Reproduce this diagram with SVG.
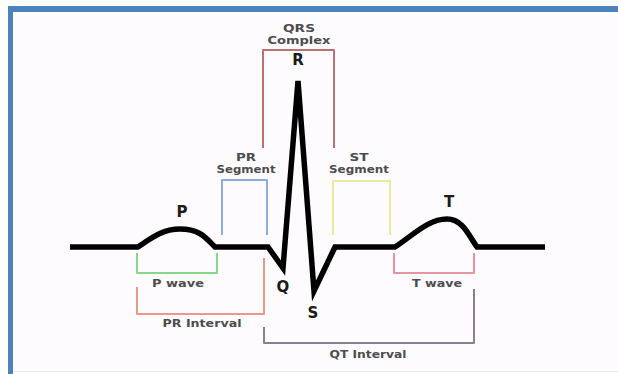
<svg xmlns="http://www.w3.org/2000/svg" width="618" height="374" viewBox="0 0 618 374">
<style>
.br{fill:none;stroke-width:2;stroke-linejoin:round;stroke-linecap:butt}
.lbl{font-family:"DejaVu Sans","Liberation Sans",sans-serif;font-weight:bold;font-size:11px;fill:#4d4d4d;text-anchor:middle}
.sm{font-size:10.5px}
.big{font-family:"DejaVu Sans","Liberation Sans",sans-serif;font-weight:bold;font-size:15px;fill:#1a1a1a;text-anchor:middle}
</style>
<rect width="618" height="374" fill="#ffffff"/>
<rect x="13" y="12" width="605" height="359" fill="#fdfbfd"/>
<rect x="13" y="371" width="605" height="1" fill="#e6e8ee"/>
<rect x="8" y="6" width="610" height="6" fill="#4f81bd"/>
<rect x="8" y="6" width="5" height="368" fill="#4f81bd"/>
<g id="connectors">
<path class="br" stroke="#b87272" d="M263,148 V50 H334 V148"/>
<path class="br" stroke="#8aaee0" d="M222,235 V180 H267 V235"/>
<path class="br" stroke="#eaea9c" d="M333,235 V181 H390 V235"/>
<path class="br" stroke="#86d886" d="M137,253 V273 H217 V253"/>
<path class="br" stroke="#e79a8c" d="M137,287 V314 H264 V258"/>
<path class="br" stroke="#e496a0" d="M394,253 V273 H474 V253"/>
<path class="br" stroke="#8c7f8f" d="M264,327 V343 H474 V289"/>
</g>
<g id="ecg">
<path fill="none" stroke="#000" stroke-width="5.5" stroke-linejoin="miter" stroke-miterlimit="4" d="M70,247 L138,247 C150,239 162,229 180,229 C200,229 206,238 215,247 L268,247 L283,268 L298,81 L314,291 L335,247 L395,247 C412,236 428,219 447,219 C463,219 469,236 477,247 L545,247"/>
</g>
<g id="qrs-label"><text class="lbl sm" x="299" y="32" textLength="32" lengthAdjust="spacingAndGlyphs">QRS</text><text class="lbl sm" x="299" y="44" textLength="63" lengthAdjust="spacingAndGlyphs">Complex</text></g>
<g id="r-label"><text class="big" x="298" y="65">R</text></g>
<g id="pr-segment-label"><text class="lbl sm" x="246" y="161" textLength="20" lengthAdjust="spacingAndGlyphs">PR</text><text class="lbl sm" x="246" y="173" textLength="59" lengthAdjust="spacingAndGlyphs">Segment</text></g>
<g id="st-segment-label"><text class="lbl sm" x="359" y="161" textLength="19" lengthAdjust="spacingAndGlyphs">ST</text><text class="lbl sm" x="359" y="173" textLength="60" lengthAdjust="spacingAndGlyphs">Segment</text></g>
<g id="p-label"><text class="big" x="182" y="217">P</text></g>
<g id="t-label"><text class="big" x="449" y="207">T</text></g>
<g id="q-label"><text class="big" x="283" y="292">Q</text></g>
<g id="s-label"><text class="big" x="313" y="318">S</text></g>
<g id="p-wave-label"><text class="lbl" x="178" y="287" textLength="52" lengthAdjust="spacingAndGlyphs">P wave</text></g>
<g id="pr-interval-label"><text class="lbl" x="202" y="327" textLength="79" lengthAdjust="spacingAndGlyphs">PR Interval</text></g>
<g id="t-wave-label"><text class="lbl" x="437" y="287" textLength="50" lengthAdjust="spacingAndGlyphs">T wave</text></g>
<g id="qt-interval-label"><text class="lbl" x="368" y="358" textLength="77" lengthAdjust="spacingAndGlyphs">QT Interval</text></g>
</svg>
